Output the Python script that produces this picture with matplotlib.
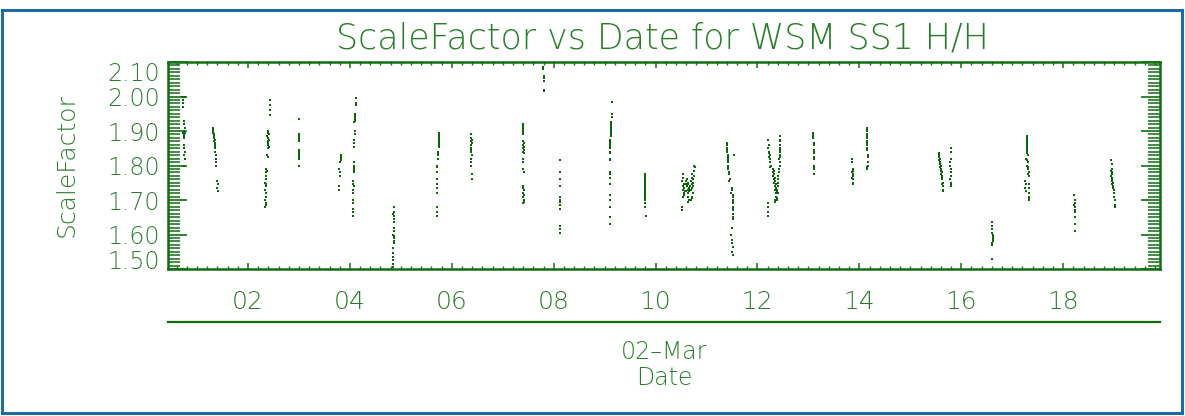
import matplotlib
matplotlib.use("Agg")
import matplotlib.pyplot as plt
from matplotlib.ticker import FixedLocator, MultipleLocator, FixedFormatter
from matplotlib.lines import Line2D
from matplotlib.patches import Rectangle

# ---------------- data: (hour of 02-Mar, scale factor) per pass ----------------
pass01 = [(0.70, 2.00), (0.73, 2.00), (0.76, 2.00), (0.73, 1.99), (0.73, 1.98), (0.73, 1.97),
          (0.74, 1.93), (0.74, 1.92), (0.76, 1.91), (0.75, 1.90), (0.73, 1.895), (0.77, 1.895),
          (0.75, 1.89), (0.75, 1.885), (0.74, 1.88), (0.75, 1.86), (0.75, 1.85), (0.76, 1.84),
          (0.74, 1.83), (0.76, 1.82), (0.75, 1.80)]
pass02 = [(1.31, 1.91), (1.31, 1.905), (1.32, 1.90), (1.32, 1.895), (1.33, 1.89), (1.34, 1.885),
          (1.33, 1.88), (1.35, 1.875), (1.34, 1.87), (1.35, 1.865), (1.36, 1.86), (1.35, 1.855),
          (1.36, 1.85), (1.36, 1.84), (1.37, 1.83), (1.37, 1.82), (1.37, 1.81), (1.37, 1.80),
          (1.40, 1.755), (1.41, 1.745), (1.40, 1.735), (1.41, 1.725)]
pass03 = [(2.43, 1.99), (2.43, 1.975), (2.43, 1.96), (2.43, 1.945), (2.40, 1.90), (2.39, 1.895),
          (2.41, 1.89), (2.38, 1.885), (2.40, 1.88), (2.42, 1.875), (2.39, 1.87), (2.40, 1.865),
          (2.40, 1.86), (2.41, 1.855), (2.40, 1.85), (2.38, 1.83), (2.39, 1.825), (2.36, 1.79),
          (2.37, 1.785), (2.36, 1.78), (2.35, 1.77), (2.36, 1.76), (2.34, 1.75), (2.36, 1.745),
          (2.35, 1.74), (2.34, 1.73), (2.35, 1.72), (2.35, 1.71), (2.34, 1.70), (2.35, 1.69),
          (2.35, 1.685), (2.34, 1.68)]
pass04 = [(3.00, 1.935), (3.00, 1.89), (3.00, 1.885), (3.00, 1.88), (3.00, 1.875), (3.00, 1.87),
          (3.01, 1.845), (3.01, 1.84), (3.01, 1.835), (3.01, 1.83), (3.01, 1.825), (3.01, 1.82),
          (3.01, 1.80)]
pass05 = [(3.82, 1.83), (3.82, 1.825), (3.82, 1.82), (3.82, 1.815), (3.80, 1.81), (3.79, 1.79),
          (3.81, 1.78), (3.80, 1.77), (3.78, 1.74), (3.78, 1.73)]
pass06 = [(4.12, 1.995), (4.12, 1.98), (4.12, 1.975), (4.11, 1.95), (4.11, 1.945), (4.10, 1.94),
          (4.10, 1.935), (4.11, 1.93), (4.09, 1.925), (4.10, 1.90), (4.10, 1.89), (4.09, 1.875),
          (4.09, 1.865), (4.09, 1.855), (4.08, 1.81), (4.08, 1.80), (4.08, 1.795), (4.09, 1.79),
          (4.08, 1.785), (4.08, 1.78), (4.07, 1.755), (4.07, 1.745), (4.08, 1.74), (4.07, 1.73),
          (4.07, 1.72), (4.07, 1.70), (4.07, 1.69), (4.06, 1.675), (4.06, 1.665), (4.06, 1.655)]
pass07 = [(4.86, 1.68), (4.86, 1.665), (4.85, 1.66), (4.87, 1.655), (4.86, 1.645), (4.86, 1.635),
          (4.87, 1.62), (4.86, 1.61), (4.85, 1.60), (4.86, 1.595), (4.86, 1.59), (4.86, 1.58),
          (4.86, 1.575), (4.85, 1.56), (4.85, 1.545), (4.84, 1.535), (4.84, 1.525), (4.84, 1.515),
          (4.84, 1.505)]
pass08 = [(5.74, 1.895), (5.74, 1.89), (5.75, 1.885), (5.74, 1.88), (5.75, 1.875), (5.74, 1.87),
          (5.75, 1.865), (5.74, 1.86), (5.75, 1.855), (5.73, 1.84), (5.72, 1.835), (5.72, 1.83),
          (5.72, 1.82), (5.71, 1.80), (5.71, 1.795), (5.71, 1.78), (5.71, 1.76), (5.71, 1.745),
          (5.71, 1.735), (5.71, 1.72), (5.70, 1.68), (5.70, 1.665), (5.70, 1.655)]
pass09 = [(6.38, 1.89), (6.38, 1.88), (6.39, 1.875), (6.38, 1.87), (6.39, 1.865), (6.38, 1.86),
          (6.38, 1.85), (6.38, 1.845), (6.38, 1.84), (6.39, 1.83), (6.38, 1.82), (6.38, 1.81),
          (6.38, 1.80), (6.39, 1.775), (6.39, 1.76)]
pass10 = [(7.39, 1.92), (7.39, 1.915), (7.40, 1.91), (7.39, 1.905), (7.40, 1.90), (7.39, 1.895),
          (7.40, 1.89), (7.40, 1.87), (7.41, 1.865), (7.40, 1.86), (7.41, 1.855), (7.40, 1.85),
          (7.41, 1.845), (7.40, 1.84), (7.41, 1.835), (7.40, 1.82), (7.40, 1.81), (7.40, 1.79),
          (7.41, 1.78), (7.40, 1.74), (7.40, 1.735), (7.41, 1.73), (7.40, 1.72), (7.41, 1.715),
          (7.40, 1.71), (7.41, 1.70), (7.42, 1.695), (7.40, 1.69)]
pass11 = [(7.79, 2.085), (7.79, 2.08), (7.80, 2.06), (7.80, 2.055), (7.80, 2.045), (7.81, 2.02),
          (7.81, 2.015)]
pass12 = [(8.12, 1.817), (8.12, 1.78), (8.12, 1.76), (8.12, 1.74), (8.12, 1.71), (8.12, 1.70),
          (8.12, 1.695), (8.12, 1.685), (8.12, 1.675), (8.12, 1.625), (8.12, 1.615), (8.12, 1.605)]
pass13 = [(9.15, 1.985), (9.14, 1.95), (9.14, 1.94), (9.13, 1.925), (9.13, 1.92), (9.12, 1.915),
          (9.13, 1.91), (9.12, 1.905), (9.12, 1.90), (9.13, 1.895), (9.12, 1.89), (9.12, 1.885),
          (9.11, 1.875), (9.11, 1.87), (9.10, 1.865), (9.11, 1.86), (9.10, 1.855), (9.11, 1.85),
          (9.10, 1.84), (9.10, 1.835), (9.10, 1.82), (9.10, 1.815), (9.10, 1.78), (9.10, 1.775),
          (9.10, 1.765), (9.10, 1.745), (9.10, 1.715), (9.10, 1.70), (9.10, 1.68), (9.10, 1.65),
          (9.10, 1.63)]
pass14 = [(9.79, 1.775), (9.79, 1.77), (9.80, 1.765), (9.79, 1.76), (9.80, 1.755), (9.80, 1.75),
          (9.79, 1.745), (9.80, 1.74), (9.80, 1.735), (9.79, 1.73), (9.80, 1.725), (9.80, 1.72),
          (9.80, 1.715), (9.80, 1.71), (9.79, 1.705), (9.80, 1.70), (9.79, 1.69), (9.79, 1.68),
          (9.81, 1.655)]
pass15 = [(10.53, 1.775), (10.54, 1.765), (10.52, 1.755), (10.55, 1.745), (10.53, 1.74),
          (10.56, 1.735), (10.54, 1.73), (10.57, 1.725), (10.55, 1.72), (10.56, 1.715),
          (10.54, 1.71), (10.52, 1.68), (10.52, 1.67),
          (10.62, 1.76), (10.63, 1.75), (10.64, 1.745), (10.62, 1.74), (10.65, 1.735),
          (10.63, 1.73), (10.66, 1.725), (10.64, 1.72), (10.63, 1.71), (10.65, 1.70), (10.64, 1.695),
          (10.76, 1.80), (10.77, 1.795), (10.75, 1.785), (10.72, 1.775), (10.76, 1.77),
          (10.71, 1.765), (10.74, 1.76), (10.70, 1.755), (10.73, 1.75), (10.71, 1.745),
          (10.74, 1.74), (10.72, 1.735), (10.70, 1.73), (10.73, 1.72), (10.71, 1.71),
          (10.72, 1.705), (10.70, 1.70), (10.60, 1.755), (10.60, 1.745), (10.68, 1.74),
          (10.68, 1.73), (10.59, 1.725)]
pass16 = [(11.40, 1.865), (11.40, 1.86), (11.40, 1.85), (11.41, 1.845), (11.41, 1.84), (11.42, 1.83),
          (11.42, 1.825), (11.42, 1.82), (11.43, 1.815), (11.42, 1.81), (11.43, 1.80), (11.43, 1.795),
          (11.43, 1.79), (11.44, 1.78), (11.45, 1.775), (11.46, 1.76), (11.45, 1.755), (11.49, 1.735),
          (11.50, 1.73), (11.48, 1.72), (11.51, 1.715), (11.51, 1.71), (11.51, 1.70), (11.51, 1.695),
          (11.51, 1.69), (11.51, 1.68), (11.51, 1.675), (11.51, 1.67), (11.51, 1.66), (11.51, 1.65),
          (11.51, 1.645), (11.50, 1.62), (11.48, 1.60), (11.49, 1.585), (11.50, 1.575),
          (11.51, 1.565), (11.50, 1.55), (11.51, 1.54), (11.53, 1.83)]
pass17 = [(12.21, 1.875), (12.22, 1.86), (12.21, 1.85), (12.23, 1.84), (12.22, 1.835), (12.24, 1.83),
          (12.23, 1.825), (12.25, 1.82), (12.24, 1.81), (12.26, 1.80), (12.25, 1.795),
          (12.30, 1.79), (12.32, 1.785), (12.31, 1.78), (12.33, 1.775), (12.30, 1.77), (12.34, 1.765),
          (12.32, 1.76), (12.35, 1.755), (12.33, 1.75), (12.36, 1.745), (12.34, 1.74), (12.37, 1.735),
          (12.35, 1.73), (12.38, 1.725), (12.36, 1.72), (12.37, 1.71), (12.38, 1.705),
          (12.44, 1.885), (12.44, 1.875), (12.44, 1.87), (12.44, 1.86), (12.45, 1.85), (12.44, 1.845),
          (12.45, 1.84), (12.44, 1.83), (12.45, 1.825), (12.43, 1.82), (12.45, 1.81), (12.44, 1.80),
          (12.43, 1.79), (12.42, 1.78), (12.41, 1.77), (12.40, 1.76), (12.41, 1.75), (12.40, 1.74),
          (12.39, 1.73), (12.40, 1.72), (12.39, 1.70),
          (12.20, 1.69), (12.20, 1.68), (12.20, 1.665), (12.20, 1.655), (12.34, 1.70), (12.34, 1.695)]
pass18 = [(13.09, 1.895), (13.09, 1.89), (13.09, 1.885), (13.09, 1.88), (13.10, 1.865), (13.10, 1.86),
          (13.10, 1.845), (13.11, 1.84), (13.10, 1.835), (13.11, 1.825), (13.11, 1.82), (13.10, 1.80),
          (13.10, 1.795), (13.10, 1.79), (13.10, 1.775)]
pass19 = [(13.86, 1.82), (13.86, 1.81), (13.87, 1.79), (13.87, 1.785), (13.86, 1.78), (13.87, 1.775),
          (13.87, 1.77), (13.86, 1.765), (13.87, 1.76), (13.87, 1.75), (13.87, 1.745)]
pass20 = [(14.15, 1.91), (14.15, 1.905), (14.15, 1.90), (14.15, 1.89), (14.15, 1.885), (14.15, 1.88),
          (14.15, 1.87), (14.15, 1.865), (14.15, 1.86), (14.15, 1.85), (14.15, 1.845), (14.16, 1.83),
          (14.16, 1.825), (14.17, 1.81), (14.16, 1.80), (14.15, 1.795), (14.14, 1.79)]
pass21 = [(15.56, 1.835), (15.57, 1.83), (15.56, 1.825), (15.58, 1.82), (15.57, 1.815), (15.59, 1.81),
          (15.58, 1.805), (15.60, 1.80), (15.59, 1.795), (15.61, 1.79), (15.60, 1.785), (15.62, 1.78),
          (15.61, 1.775), (15.63, 1.77), (15.62, 1.765), (15.63, 1.76), (15.64, 1.75), (15.63, 1.745),
          (15.65, 1.74), (15.64, 1.73), (15.65, 1.725),
          (15.79, 1.85), (15.79, 1.84), (15.79, 1.82), (15.78, 1.81), (15.78, 1.80), (15.79, 1.79),
          (15.80, 1.78), (15.79, 1.77), (15.78, 1.76), (15.79, 1.75), (15.80, 1.745), (15.79, 1.74)]
pass22 = [(16.60, 1.635), (16.60, 1.625), (16.61, 1.615), (16.61, 1.605), (16.62, 1.60), (16.62, 1.595),
          (16.62, 1.59), (16.62, 1.585), (16.62, 1.58), (16.61, 1.575), (16.61, 1.57), (16.61, 1.53)]
pass23 = [(17.28, 1.885), (17.28, 1.88), (17.29, 1.875), (17.28, 1.87), (17.29, 1.865), (17.28, 1.86),
          (17.29, 1.855), (17.29, 1.85), (17.28, 1.845), (17.29, 1.84), (17.29, 1.835), (17.30, 1.83),
          (17.27, 1.82), (17.29, 1.815), (17.31, 1.81), (17.28, 1.80), (17.30, 1.795), (17.31, 1.79),
          (17.32, 1.78), (17.30, 1.775), (17.32, 1.77), (17.26, 1.755), (17.27, 1.745), (17.26, 1.735),
          (17.27, 1.725), (17.33, 1.745), (17.33, 1.735), (17.33, 1.72), (17.33, 1.71), (17.33, 1.705),
          (17.33, 1.70)]
pass24 = [(18.22, 1.715), (18.23, 1.70), (18.23, 1.69), (18.22, 1.685), (18.23, 1.68), (18.23, 1.67),
          (18.23, 1.665), (18.23, 1.65), (18.23, 1.63), (18.23, 1.61)]
pass25 = [(18.93, 1.815), (18.96, 1.805), (18.95, 1.79), (18.94, 1.785), (18.95, 1.78), (18.96, 1.775),
          (18.94, 1.77), (18.95, 1.765), (18.96, 1.76), (18.95, 1.755), (18.97, 1.75), (18.96, 1.745),
          (18.98, 1.74), (18.97, 1.735), (18.99, 1.73), (19.00, 1.72), (19.00, 1.71), (19.01, 1.70),
          (19.02, 1.685), (19.02, 1.68)]

passes = [pass01, pass02, pass03, pass04, pass05, pass06, pass07, pass08, pass09, pass10,
          pass11, pass12, pass13, pass14, pass15, pass16, pass17, pass18, pass19, pass20,
          pass21, pass22, pass23, pass24, pass25]

hour_ticks = [2, 4, 6, 8, 10, 12, 14, 16, 18]
hour_labels = ["02", "04", "06", "08", "10", "12", "14", "16", "18"]
y_ticks = [1.50, 1.60, 1.70, 1.80, 1.90, 2.00, 2.10]
y_labels = ["1.50", "1.60", "1.70", "1.80", "1.90", "2.00", "2.10"]
title = "ScaleFactor vs Date for WSM SS1 H/H"
date_label = "02\u2013Mar"
x_label = "Date"
y_label = "ScaleFactor"

# ---------------- style ----------------
GREEN = "#2a7d2a"
AXISGREEN = "#116f11"
POINT = "#0b650b"
BLUE = "#1f6aa5"
LIGHT = "light"
plt.rcParams["font.family"] = ["DejaVu Sans"]

W, H = 1185, 416
fig = plt.figure(figsize=(W / 100, H / 100), dpi=100)
fig.patch.set_facecolor("white")

def fx(px):
    return px / W

def fy(py):
    return 1 - py / H

ax = fig.add_axes([fx(168), fy(269), fx(1160) - fx(168), fy(62) - fy(269)])

for p in passes:
    hx = [q[0] for q in p]
    hv = [q[1] for q in p]
    ax.plot(hx, hv, linestyle="none", marker="s", ms=1.8, mew=0, color=POINT)

ax.set_xlim(0.43, 19.9)
ax.set_ylim(1.50, 2.10)

ax.xaxis.set_major_locator(FixedLocator(hour_ticks))
ax.xaxis.set_major_formatter(FixedFormatter(hour_labels))
ax.xaxis.set_minor_locator(MultipleLocator(0.2))
ax.yaxis.set_major_locator(FixedLocator(y_ticks))
ax.yaxis.set_major_formatter(FixedFormatter(y_labels))
ax.yaxis.set_minor_locator(MultipleLocator(0.01))

for s in ax.spines.values():
    s.set_color(AXISGREEN)
    s.set_linewidth(1.8)

ax.tick_params(which="both", direction="in", top=True, right=True, color=AXISGREEN,
               labelcolor=GREEN)
ax.tick_params(axis="x", which="major", length=4.5, width=1.1, pad=15, labelsize=18)
ax.tick_params(axis="x", which="minor", length=2.2, width=1.0)
ax.tick_params(axis="y", which="major", length=14, width=1.2, pad=6, labelsize=17)
ax.tick_params(axis="y", which="minor", length=8.5, width=1.1)

ylabs = ax.get_yticklabels()
ylabs[-1].set_va("top")
ylabs[0].set_va("baseline")
for t in ax.get_xticklabels() + ylabs:
    t.set_fontweight(LIGHT)

ax.set_ylabel(y_label, color=GREEN, fontsize=18, fontweight=LIGHT)
ax.yaxis.set_label_coords(-(168 - 79) / (1160 - 168), 0.5)

fig.text(fx(662), fy(38), title, color=GREEN, fontsize=25, fontweight=LIGHT,
         ha="center", va="center")

# secondary date axis line below the plot
fig.add_artist(Line2D([fx(168), fx(1160)], [fy(322), fy(322)], color=AXISGREEN, lw=1.6))
fig.text(fx(664), fy(352), date_label, color=GREEN, fontsize=17, fontweight=LIGHT,
         ha="center", va="center")
fig.text(fx(664), fy(378), x_label, color=GREEN, fontsize=17, fontweight=LIGHT,
         ha="center", va="center")

# outer blue frame
fig.add_artist(Rectangle((fx(2), fy(413)), fx(1182) - fx(2), fy(10) - fy(413),
                         transform=fig.transFigure, fill=False, edgecolor=BLUE, lw=2.2))

fig.savefig("out.png", dpi=100, facecolor="white")
